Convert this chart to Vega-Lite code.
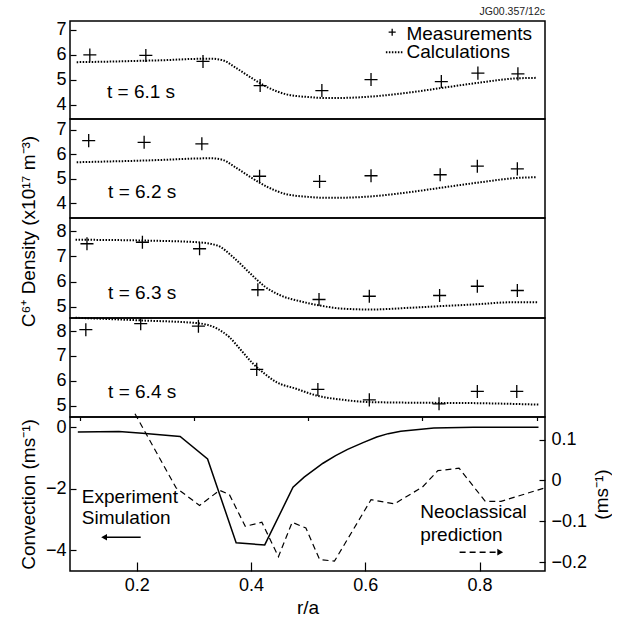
{
  "$schema": "https://vega.github.io/schema/vega-lite/v6.json",
  "background": "white",
  "padding": {"left": 18, "top": 6, "right": 0, "bottom": 0},
  "spacing": 0,
  "bounds": "flush",
  "config": {
    "font": "Liberation Sans",
    "view": {"stroke": "black", "strokeWidth": 1.5},
    "axis": {"domain": false, "grid": false, "tickColor": "black", "tickWidth": 1.2, "labelColor": "black", "labelFontSize": 18, "labelFont": "Liberation Sans", "titleFont": "Liberation Sans", "titleFontSize": 19, "titleFontWeight": "normal", "titleColor": "black"},
    "text": {"font": "Liberation Sans"}
  },
  "datasets": {
    "meas": [
      {"t": "6.1", "r": 0.118, "n": 5.99}, {"t": "6.1", "r": 0.216, "n": 5.97}, {"t": "6.1", "r": 0.316, "n": 5.73}, {"t": "6.1", "r": 0.416, "n": 4.76}, {"t": "6.1", "r": 0.524, "n": 4.56}, {"t": "6.1", "r": 0.61, "n": 5.0}, {"t": "6.1", "r": 0.733, "n": 4.92}, {"t": "6.1", "r": 0.797, "n": 5.26}, {"t": "6.1", "r": 0.867, "n": 5.23},
      {"t": "6.2", "r": 0.116, "n": 6.55}, {"t": "6.2", "r": 0.213, "n": 6.48}, {"t": "6.2", "r": 0.314, "n": 6.42}, {"t": "6.2", "r": 0.415, "n": 5.10}, {"t": "6.2", "r": 0.52, "n": 4.89}, {"t": "6.2", "r": 0.61, "n": 5.12}, {"t": "6.2", "r": 0.731, "n": 5.16}, {"t": "6.2", "r": 0.796, "n": 5.51}, {"t": "6.2", "r": 0.866, "n": 5.40},
      {"t": "6.3", "r": 0.113, "n": 7.51}, {"t": "6.3", "r": 0.21, "n": 7.57}, {"t": "6.3", "r": 0.31, "n": 7.31}, {"t": "6.3", "r": 0.412, "n": 5.67}, {"t": "6.3", "r": 0.519, "n": 5.28}, {"t": "6.3", "r": 0.607, "n": 5.41}, {"t": "6.3", "r": 0.73, "n": 5.44}, {"t": "6.3", "r": 0.796, "n": 5.81}, {"t": "6.3", "r": 0.866, "n": 5.64},
      {"t": "6.4", "r": 0.111, "n": 8.06}, {"t": "6.4", "r": 0.207, "n": 8.30}, {"t": "6.4", "r": 0.308, "n": 8.20}, {"t": "6.4", "r": 0.41, "n": 6.46}, {"t": "6.4", "r": 0.517, "n": 5.65}, {"t": "6.4", "r": 0.607, "n": 5.23}, {"t": "6.4", "r": 0.729, "n": 5.07}, {"t": "6.4", "r": 0.796, "n": 5.57}, {"t": "6.4", "r": 0.865, "n": 5.57}
    ],
    "calc": [
      {"t": "6.1", "r": 0.095, "n": 5.70}, {"t": "6.1", "r": 0.15, "n": 5.72}, {"t": "6.1", "r": 0.2, "n": 5.75}, {"t": "6.1", "r": 0.25, "n": 5.78}, {"t": "6.1", "r": 0.3, "n": 5.83}, {"t": "6.1", "r": 0.33, "n": 5.84}, {"t": "6.1", "r": 0.35, "n": 5.78}, {"t": "6.1", "r": 0.375, "n": 5.45}, {"t": "6.1", "r": 0.40, "n": 5.08}, {"t": "6.1", "r": 0.43, "n": 4.68}, {"t": "6.1", "r": 0.46, "n": 4.42}, {"t": "6.1", "r": 0.50, "n": 4.30}, {"t": "6.1", "r": 0.535, "n": 4.26}, {"t": "6.1", "r": 0.57, "n": 4.27}, {"t": "6.1", "r": 0.61, "n": 4.32}, {"t": "6.1", "r": 0.68, "n": 4.49}, {"t": "6.1", "r": 0.735, "n": 4.67}, {"t": "6.1", "r": 0.80, "n": 4.88}, {"t": "6.1", "r": 0.865, "n": 5.05}, {"t": "6.1", "r": 0.90, "n": 5.07},
      {"t": "6.2", "r": 0.095, "n": 5.67}, {"t": "6.2", "r": 0.15, "n": 5.70}, {"t": "6.2", "r": 0.2, "n": 5.73}, {"t": "6.2", "r": 0.25, "n": 5.77}, {"t": "6.2", "r": 0.3, "n": 5.82}, {"t": "6.2", "r": 0.33, "n": 5.83}, {"t": "6.2", "r": 0.35, "n": 5.77}, {"t": "6.2", "r": 0.375, "n": 5.43}, {"t": "6.2", "r": 0.40, "n": 5.05}, {"t": "6.2", "r": 0.43, "n": 4.65}, {"t": "6.2", "r": 0.46, "n": 4.38}, {"t": "6.2", "r": 0.50, "n": 4.26}, {"t": "6.2", "r": 0.535, "n": 4.22}, {"t": "6.2", "r": 0.57, "n": 4.23}, {"t": "6.2", "r": 0.61, "n": 4.28}, {"t": "6.2", "r": 0.68, "n": 4.46}, {"t": "6.2", "r": 0.735, "n": 4.64}, {"t": "6.2", "r": 0.80, "n": 4.85}, {"t": "6.2", "r": 0.865, "n": 5.03}, {"t": "6.2", "r": 0.90, "n": 5.06},
      {"t": "6.3", "r": 0.093, "n": 7.67}, {"t": "6.3", "r": 0.21, "n": 7.64}, {"t": "6.3", "r": 0.307, "n": 7.57}, {"t": "6.3", "r": 0.341, "n": 7.44}, {"t": "6.3", "r": 0.369, "n": 6.97}, {"t": "6.3", "r": 0.3965, "n": 6.37}, {"t": "6.3", "r": 0.424, "n": 5.80}, {"t": "6.3", "r": 0.452, "n": 5.44}, {"t": "6.3", "r": 0.486, "n": 5.21}, {"t": "6.3", "r": 0.52, "n": 5.04}, {"t": "6.3", "r": 0.562, "n": 4.91}, {"t": "6.3", "r": 0.61, "n": 4.88}, {"t": "6.3", "r": 0.679, "n": 4.95}, {"t": "6.3", "r": 0.727, "n": 5.01}, {"t": "6.3", "r": 0.789, "n": 5.08}, {"t": "6.3", "r": 0.858, "n": 5.17}, {"t": "6.3", "r": 0.903, "n": 5.17},
      {"t": "6.4", "r": 0.093, "n": 8.54}, {"t": "6.4", "r": 0.21, "n": 8.43}, {"t": "6.4", "r": 0.307, "n": 8.32}, {"t": "6.4", "r": 0.341, "n": 8.10}, {"t": "6.4", "r": 0.362, "n": 7.76}, {"t": "6.4", "r": 0.383, "n": 7.22}, {"t": "6.4", "r": 0.4035, "n": 6.69}, {"t": "6.4", "r": 0.424, "n": 6.28}, {"t": "6.4", "r": 0.445, "n": 5.94}, {"t": "6.4", "r": 0.479, "n": 5.68}, {"t": "6.4", "r": 0.514, "n": 5.41}, {"t": "6.4", "r": 0.562, "n": 5.23}, {"t": "6.4", "r": 0.61, "n": 5.14}, {"t": "6.4", "r": 0.72, "n": 5.11}, {"t": "6.4", "r": 0.789, "n": 5.10}, {"t": "6.4", "r": 0.903, "n": 5.04}
    ],
    "ann": [
      {"t": "6.1", "r": 0.148, "n": 4.49, "label": "t = 6.1 s"},
      {"t": "6.1", "r": 0.672, "n": 6.84, "label": "Measurements"},
      {"t": "6.1", "r": 0.672, "n": 6.10, "label": "Calculations"},
      {"t": "6.2", "r": 0.15, "n": 4.45, "label": "t = 6.2 s"},
      {"t": "6.3", "r": 0.15, "n": 5.53, "label": "t = 6.3 s"},
      {"t": "6.4", "r": 0.15, "n": 5.54, "label": "t = 6.4 s"}
    ],
    "legline": [{"r": 0.636, "n": 6.10}, {"r": 0.667, "n": 6.10}],
    "legplus": [{"r": 0.647, "n": 6.90}],
    "conv": [
      {"r": 0.097, "v": -0.16}, {"r": 0.169, "v": -0.14}, {"r": 0.21, "v": -0.195}, {"r": 0.276, "v": -0.30}, {"r": 0.324, "v": -1.03}, {"r": 0.374, "v": -3.75}, {"r": 0.424, "v": -3.82}, {"r": 0.4735, "v": -1.95}, {"r": 0.493, "v": -1.62}, {"r": 0.526, "v": -1.17}, {"r": 0.548, "v": -0.92}, {"r": 0.569, "v": -0.72}, {"r": 0.596, "v": -0.50}, {"r": 0.62, "v": -0.32}, {"r": 0.64, "v": -0.21}, {"r": 0.662, "v": -0.13}, {"r": 0.72, "v": -0.03}, {"r": 0.789, "v": 0.0}, {"r": 0.903, "v": 0.0}
    ],
    "convtext": [
      {"r": 0.104, "v": -2.25, "label": "Experiment"},
      {"r": 0.104, "v": -2.94, "label": "Simulation"}
    ],
    "arrowL": [{"r": 0.207, "v": -3.57}, {"r": 0.146, "v": -3.57}],
    "headL": [{"r": 0.143, "v": -3.57}],
    "neo": [
      {"r": 0.197, "w": 0.163}, {"r": 0.269, "w": -0.018}, {"r": 0.31, "w": -0.061}, {"r": 0.345, "w": -0.024}, {"r": 0.362, "w": -0.034}, {"r": 0.39, "w": -0.112}, {"r": 0.419, "w": -0.102}, {"r": 0.448, "w": -0.186}, {"r": 0.472, "w": -0.102}, {"r": 0.496, "w": -0.116}, {"r": 0.52, "w": -0.193}, {"r": 0.546, "w": -0.197}, {"r": 0.61, "w": -0.047}, {"r": 0.651, "w": -0.057}, {"r": 0.70, "w": -0.016}, {"r": 0.727, "w": 0.024}, {"r": 0.764, "w": 0.030}, {"r": 0.81, "w": -0.051}, {"r": 0.8375, "w": -0.051}, {"r": 0.914, "w": -0.018}
    ],
    "neotext": [
      {"r": 0.696, "w": -0.0775, "label": "Neoclassical"},
      {"r": 0.696, "w": -0.132, "label": "prediction"}
    ],
    "arrowR": [{"r": 0.765, "w": -0.175}, {"r": 0.832, "w": -0.175}],
    "headR": [{"r": 0.836, "w": -0.175}]
  },
  "vconcat": [
    {
      "width": 475, "height": 98,
      "title": {"text": "JG00.357/12c", "anchor": "end", "frame": "group", "fontSize": 10.5, "fontWeight": "normal", "color": "#222", "offset": 3, "font": "Liberation Sans"},
      "encoding": {
        "x": {"field": "r", "type": "quantitative", "scale": {"domain": [0.0833, 0.9144], "nice": false, "zero": false}, "axis": null},
        "y": {"field": "n", "type": "quantitative", "scale": {"domain": [3.42, 7.35], "nice": false, "zero": false}, "axis": {"values": [4, 5, 6, 7], "format": "d", "title": null, "tickSize": -6, "labelPadding": 10}}
      },
      "layer": [
        {"data": {"name": "calc"}, "transform": [{"filter": "datum.t == '6.1'"}], "mark": {"type": "line", "color": "black", "strokeWidth": 2, "strokeDash": [1.5, 1.5], "interpolate": "monotone"}},
        {"data": {"name": "legline"}, "mark": {"type": "line", "color": "black", "strokeWidth": 2, "strokeDash": [1.5, 1.5]}},
        {"data": {"name": "meas"}, "transform": [{"filter": "datum.t == '6.1'"}], "mark": {"type": "point", "shape": "M-1,0L1,0M0,-1L0,1", "size": 170, "filled": false, "color": "black", "strokeWidth": 1.3, "opacity": 1}},
        {"data": {"name": "legplus"}, "mark": {"type": "point", "shape": "M-1,0L1,0M0,-1L0,1", "size": 50, "filled": false, "color": "black", "strokeWidth": 1.3, "opacity": 1}},
        {"data": {"name": "ann"}, "transform": [{"filter": "datum.t == '6.1'"}], "mark": {"type": "text", "align": "left", "baseline": "middle", "fontSize": 19, "color": "black"}, "encoding": {"text": {"field": "label"}}}
      ]
    },
    {
      "width": 475, "height": 99,
      "encoding": {
        "x": {"field": "r", "type": "quantitative", "scale": {"domain": [0.0833, 0.9144], "nice": false, "zero": false}, "axis": null},
        "y": {"field": "n", "type": "quantitative", "scale": {"domain": [3.40, 7.43], "nice": false, "zero": false}, "axis": {"values": [4, 5, 6, 7], "format": "d", "title": null, "tickSize": -6, "labelPadding": 10}}
      },
      "layer": [
        {"data": {"name": "calc"}, "transform": [{"filter": "datum.t == '6.2'"}], "mark": {"type": "line", "color": "black", "strokeWidth": 2, "strokeDash": [1.5, 1.5], "interpolate": "monotone"}},
        {"data": {"name": "meas"}, "transform": [{"filter": "datum.t == '6.2'"}], "mark": {"type": "point", "shape": "M-1,0L1,0M0,-1L0,1", "size": 170, "filled": false, "color": "black", "strokeWidth": 1.3, "opacity": 1}},
        {"data": {"name": "ann"}, "transform": [{"filter": "datum.t == '6.2'"}], "mark": {"type": "text", "align": "left", "baseline": "middle", "fontSize": 19, "color": "black"}, "encoding": {"text": {"field": "label"}}}
      ]
    },
    {
      "width": 475, "height": 100,
      "encoding": {
        "x": {"field": "r", "type": "quantitative", "scale": {"domain": [0.0833, 0.9144], "nice": false, "zero": false}, "axis": null},
        "y": {"field": "n", "type": "quantitative", "scale": {"domain": [4.54, 8.54], "nice": false, "zero": false}, "axis": {"values": [5, 6, 7, 8], "format": "d", "title": "C⁶⁺ Density (x10¹⁷ m⁻³)", "titleX": -36, "titleY": 13, "titleBaseline": "alphabetic", "tickSize": -6, "labelPadding": 10}}
      },
      "layer": [
        {"data": {"name": "calc"}, "transform": [{"filter": "datum.t == '6.3'"}], "mark": {"type": "line", "color": "black", "strokeWidth": 2, "strokeDash": [1.5, 1.5], "interpolate": "monotone"}},
        {"data": {"name": "meas"}, "transform": [{"filter": "datum.t == '6.3'"}], "mark": {"type": "point", "shape": "M-1,0L1,0M0,-1L0,1", "size": 170, "filled": false, "color": "black", "strokeWidth": 1.3, "opacity": 1}},
        {"data": {"name": "ann"}, "transform": [{"filter": "datum.t == '6.3'"}], "mark": {"type": "text", "align": "left", "baseline": "middle", "fontSize": 19, "color": "black"}, "encoding": {"text": {"field": "label"}}}
      ]
    },
    {
      "width": 475, "height": 99,
      "encoding": {
        "x": {"field": "r", "type": "quantitative", "scale": {"domain": [0.0833, 0.9144], "nice": false, "zero": false}, "axis": null},
        "y": {"field": "n", "type": "quantitative", "scale": {"domain": [4.54, 8.53], "nice": false, "zero": false}, "axis": {"values": [5, 6, 7, 8], "format": "d", "title": null, "tickSize": -6, "labelPadding": 10}}
      },
      "layer": [
        {"data": {"name": "calc"}, "transform": [{"filter": "datum.t == '6.4'"}], "mark": {"type": "line", "color": "black", "strokeWidth": 2, "strokeDash": [1.5, 1.5], "interpolate": "monotone"}},
        {"data": {"name": "meas"}, "transform": [{"filter": "datum.t == '6.4'"}], "mark": {"type": "point", "shape": "M-1,0L1,0M0,-1L0,1", "size": 170, "filled": false, "color": "black", "strokeWidth": 1.3, "opacity": 1}},
        {"data": {"name": "ann"}, "transform": [{"filter": "datum.t == '6.4'"}], "mark": {"type": "text", "align": "left", "baseline": "middle", "fontSize": 19, "color": "black"}, "encoding": {"text": {"field": "label"}}}
      ]
    },
    {
      "width": 475, "height": 154,
      "layer": [
        {
          "encoding": {
            "x": {"field": "r", "type": "quantitative", "scale": {"domain": [0.0833, 0.9144], "nice": false, "zero": false}, "axis": {"values": [0.2, 0.4, 0.6, 0.8], "format": ".1f", "tickSize": -9, "labelPadding": 14, "title": "r/a", "titlePadding": 4}},
            "y": {"field": "v", "type": "quantitative", "scale": {"domain": [-4.665, 0.33], "nice": false, "zero": false}, "axis": {"values": [0, -2, -4], "format": "d", "tickSize": -6, "labelPadding": 10, "title": "Convection (ms⁻¹)", "titleX": -36, "titleBaseline": "alphabetic"}}
          },
          "layer": [
            {"data": {"name": "conv"}, "mark": {"type": "line", "color": "black", "strokeWidth": 1.5}},
            {"data": {"name": "arrowL"}, "mark": {"type": "line", "color": "black", "strokeWidth": 1.5}},
            {"data": {"name": "headL"}, "mark": {"type": "point", "shape": "triangle-left", "size": 45, "filled": true, "color": "black", "opacity": 1}},
            {"data": {"name": "convtext"}, "mark": {"type": "text", "align": "left", "baseline": "middle", "fontSize": 19, "color": "black"}, "encoding": {"text": {"field": "label"}}}
          ]
        },
        {
          "encoding": {
            "x": {"field": "r", "type": "quantitative", "scale": {"domain": [0.0833, 0.9144], "nice": false, "zero": false}, "axis": {"values": [0.1, 0.3, 0.5, 0.7, 0.9], "labels": false, "tickSize": -3.5, "title": null}},
            "y": {"field": "w", "type": "quantitative", "scale": {"domain": [-0.221, 0.155], "nice": false, "zero": false}, "axis": {"orient": "right", "values": [0.1, 0, -0.1, -0.2], "format": "~g", "tickSize": -6, "labelPadding": 12, "title": "(ms⁻¹)", "titleAngle": 270, "titleX": 62, "titleBaseline": "alphabetic"}}
          },
          "layer": [
            {"data": {"name": "neo"}, "mark": {"type": "line", "color": "black", "strokeWidth": 1.2, "strokeDash": [6, 4]}},
            {"data": {"name": "arrowR"}, "mark": {"type": "line", "color": "black", "strokeWidth": 1.5, "strokeDash": [6, 4]}},
            {"data": {"name": "headR"}, "mark": {"type": "point", "shape": "triangle-right", "size": 45, "filled": true, "color": "black", "opacity": 1}},
            {"data": {"name": "neotext"}, "mark": {"type": "text", "align": "left", "baseline": "middle", "fontSize": 19, "color": "black"}, "encoding": {"text": {"field": "label"}}}
          ]
        }
      ],
      "resolve": {"scale": {"y": "independent"}, "axis": {"x": "independent", "y": "independent"}}
    }
  ]
}
